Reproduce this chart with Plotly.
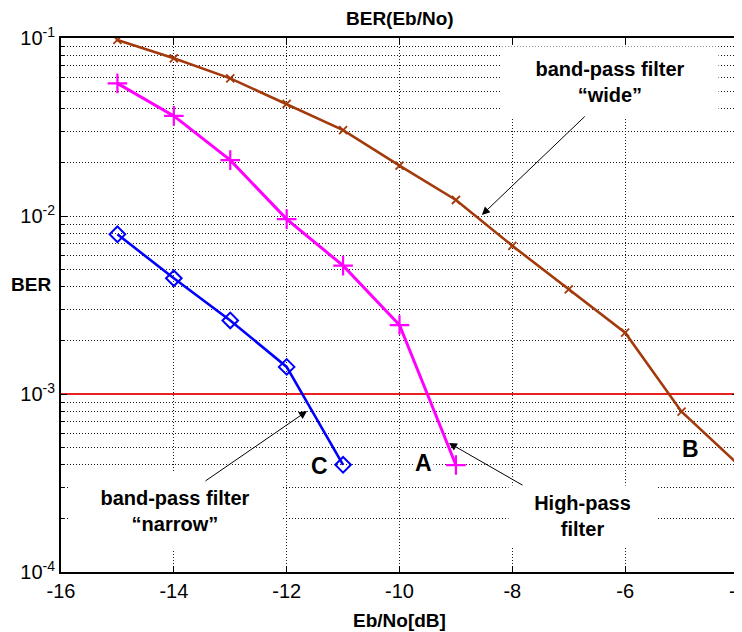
import math
import plotly.graph_objects as go

# ---- data ----
ebno_wide = [-15, -14, -13, -12, -11, -10, -9, -8, -7, -6, -5, -4]
ber_wide = [0.0975, 0.0769, 0.0593, 0.0426, 0.0304, 0.0192, 0.0123, 0.0068, 0.00387, 0.00221, 0.000796, 0.000403]

ebno_high = [-15, -14, -13, -12, -11, -10, -9]
ber_high = [0.0556, 0.0365, 0.0206, 0.0096, 0.00526, 0.00244, 0.000399]

ebno_narrow = [-15, -14, -13, -12, -11]
ber_narrow = [0.00789, 0.00447, 0.00259, 0.00142, 0.000400]

ber_target = 1e-3
x_ticks = [-16, -14, -12, -10, -8, -6, -4]
y_ticks = [1e-4, 1e-3, 1e-2, 1e-1]
y_tick_labels = ["10<sup>-4</sup>", "10<sup>-3</sup>", "10<sup>-2</sup>", "10<sup>-1</sup>"]
y_minor = [m * 10.0 ** e for e in (-4, -3, -2) for m in range(2, 10)]

FONT = "Liberation Sans, Arial, sans-serif"
BROWN = "#A33A0C"
GRID = "#1a1a1a"
GDASH = "1px,2px"

fig = go.Figure()

fig.add_trace(go.Scatter(
    x=[x_ticks[0], x_ticks[-1]], y=[ber_target, ber_target], mode="lines",
    line=dict(color="#E82020", width=2.2), hoverinfo="skip", showlegend=False))

fig.add_trace(go.Scatter(
    x=ebno_wide, y=ber_wide, mode="lines+markers",
    line=dict(color=BROWN, width=2.6),
    marker=dict(symbol="x-thin", size=8, line=dict(color=BROWN, width=1.8)),
    showlegend=False))

fig.add_trace(go.Scatter(
    x=ebno_high, y=ber_high, mode="lines+markers",
    line=dict(color="#FF00FF", width=3),
    marker=dict(symbol="cross-thin", size=14, line=dict(color="#FF00FF", width=2.2)),
    showlegend=False))

fig.add_trace(go.Scatter(
    x=ebno_narrow, y=ber_narrow, mode="lines+markers",
    line=dict(color="#0000FF", width=2.6),
    marker=dict(symbol="diamond-open", size=12, color="#0000FF", line=dict(width=2)),
    showlegend=False))

L = math.log10
annotations = []

def text_box(x, y, text, w=None, h=None, size=20):
    d = dict(x=x, y=L(y), xref="x", yref="y", text=text, showarrow=False,
             font=dict(family=FONT, size=size, color="black"),
             bgcolor="white", align="center")
    if w:
        d["width"] = w
    if h:
        d["height"] = h
    annotations.append(d)

def arrow(x_head, y_head, x_tail, y_tail):
    annotations.append(dict(
        x=x_head, y=L(y_head), ax=x_tail, ay=L(y_tail),
        xref="x", yref="y", axref="x", ayref="y", text="",
        showarrow=True, arrowhead=2, arrowsize=1.6, arrowwidth=1, arrowcolor="black",
        standoff=0, startstandoff=0))

text_box(-6.27, 10 ** -1.248, "<b>band-pass filter</b><br><b>“wide”</b>", 214, 68)
arrow(-8.54, 10 ** -1.994, -6.69, 10 ** -1.433)

text_box(-13.98, 10 ** -3.66, "<b>band-pass filter</b><br><b>“narrow”</b>", 210, 76)
arrow(-11.64, 10 ** -3.096, -13.465, 10 ** -3.494)

text_box(-6.75, 10 ** -3.685, "<b>High-pass</b><br><b>filter</b>", 145, 58)
arrow(-9.123, 10 ** -3.275, -7.793, 10 ** -3.517)

text_box(-11.41, 10 ** -3.404, "<b>C</b>", size=23)
text_box(-9.58, 10 ** -3.388, "<b>A</b>", size=23)
text_box(-4.85, 10 ** -3.309, "<b>B</b>", size=23)

# titles
annotations.append(dict(x=0.5, y=1.036, xref="paper", yref="paper", text="<b>BER(Eb/No)</b>",
                        showarrow=False, font=dict(family=FONT, size=19, color="black"),
                        xanchor="center", yanchor="middle"))
annotations.append(dict(x=0.5, y=-0.09, xref="paper", yref="paper", text="<b>Eb/No[dB]</b>",
                        showarrow=False, font=dict(family=FONT, size=19, color="black"),
                        xanchor="center", yanchor="middle"))
annotations.append(dict(x=-0.044, y=0.5375, xref="paper", yref="paper", text="<b>BER</b>",
                        showarrow=False, font=dict(family=FONT, size=19, color="black"),
                        xanchor="center", yanchor="middle"))

# the page body has an 8px margin, so the figure is 8px smaller and offset
fig.update_layout(
    width=734, height=624,
    margin=dict(l=53, r=4, t=30, b=60, autoexpand=False),
    paper_bgcolor="white", plot_bgcolor="white",
    font=dict(family=FONT, size=20, color="black"),
    annotations=annotations,
)

fig.update_xaxes(
    range=[-16, -4], tickvals=x_ticks, ticktext=[str(v) for v in x_ticks],
    showgrid=True, gridcolor=GRID, griddash=GDASH, gridwidth=1,
    showline=True, linecolor="black", linewidth=2, mirror="ticks",
    ticks="inside", ticklen=6, tickcolor="black", tickwidth=1,
    zeroline=False, tickfont=dict(size=20), automargin=False,
    ticklabeloverflow="allow",
)
fig.update_yaxes(
    type="log", range=[-4, -1], tickvals=y_ticks, ticktext=y_tick_labels,
    showgrid=True, gridcolor=GRID, griddash=GDASH, gridwidth=1,
    showline=True, linecolor="black", linewidth=2, mirror="ticks",
    ticks="inside", ticklen=6, tickcolor="black", tickwidth=1,
    zeroline=False, tickfont=dict(size=20), automargin=False,
    ticklabeloverflow="allow",
    minor=dict(tickvals=y_minor, showgrid=True, gridcolor=GRID, griddash=GDASH,
               gridwidth=1, ticks="inside", ticklen=3, tickcolor="black"),
)

fig.write_html("out.html")
